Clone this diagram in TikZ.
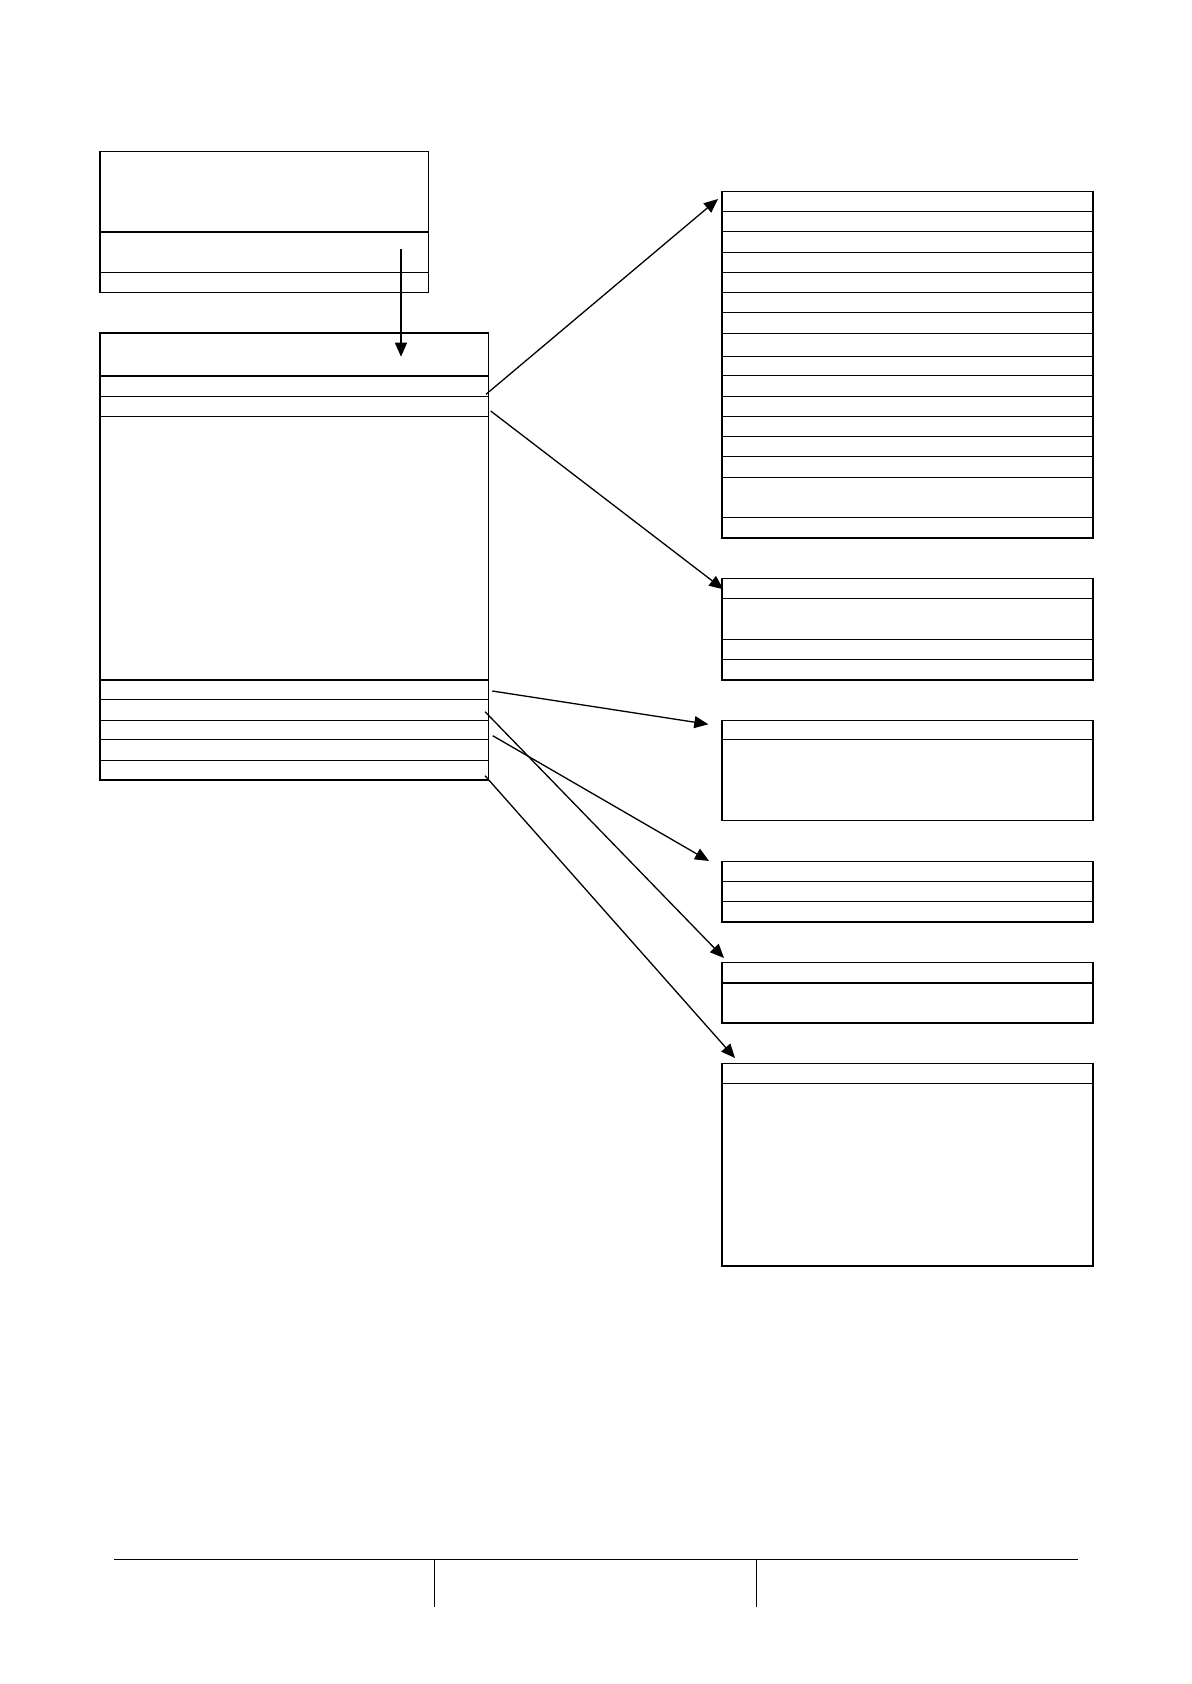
\documentclass[tikz,border=0pt]{standalone}
\usepackage{tikz}
\usetikzlibrary{arrows.meta, fit}
\tikzstyle{tbl} = [draw, line width=0.8pt, inner sep=0pt]
\tikzstyle{sep} = [line width=0.45pt]
\tikzstyle{hsep} = [line width=0.9pt]
\tikzstyle{arrow} = [line width=0.65pt, -{Triangle[length=7pt,width=6pt]}]

\begin{document}
\begin{tikzpicture}[x=0.5pt, y=-0.5pt]
\useasboundingbox (0,0) rectangle (1191,1684);
% boxes
\node[tbl, fit={(100,151.6) (428.3,292.7)}] (top) {};
\node[tbl, fit={(100,333.3) (488.3,780)}] (main) {};
\node[tbl, fit={(722,191.7) (1092.7,537.7)}] (tabA) {};
\node[tbl, fit={(722,578.3) (1092.7,679.7)}] (tabB) {};
\node[tbl, fit={(722,720.3) (1092.7,820.3)}] (tabC) {};
\node[tbl, fit={(722,861.3) (1092.7,921.7)}] (tabD) {};
\node[tbl, fit={(722,962.3) (1092.7,1023)}] (tabE) {};
\node[tbl, fit={(722,1063.3) (1092.7,1265.7)}] (tabF) {};
% rows
\draw[hsep] (100,231.7) -- (428.3,231.7);
\draw[sep] (100,272.3) -- (428.3,272.3);
\draw[hsep] (100,375.7) -- (488.3,375.7);
\draw[hsep] (100,680) -- (488.3,680);
\foreach \y in {396.3,416.3,699.3,720.3,739.3,760.3}
  \draw[sep] (100,\y) -- (488.3,\y);
\foreach \y in {211.3,231.7,252.3,272.3,292.7,312.7,333.3,356.3,375.3,396.3,416.3,436.3,456.3,477,517.3}
  \draw[sep] (722,\y) -- (1092.7,\y);
\foreach \y in {598.3,639.3,659.3,739.3,881.3,901.3,1083.3}
  \draw[sep] (722,\y) -- (1092.7,\y);
\draw[hsep] (722,983) -- (1092.7,983);
% arrow ends
\coordinate (d1) at (401,249);
\coordinate (d2) at (401,356.7);
\coordinate (s1) at (486,394.3);
\coordinate (s2) at (490.7,411);
\coordinate (s3) at (492.3,691);
\coordinate (s4) at (492.7,735.7);
\coordinate (s5) at (485,711.7);
\coordinate (s6) at (485,775.7);
\coordinate (e1) at (718,199);
\coordinate (e2) at (723.3,589.3);
\coordinate (e3) at (708.3,724.3);
\coordinate (e4) at (709,861);
\coordinate (e5) at (724,958);
\coordinate (e6) at (735,1058);
\draw[arrow] (d1) -- (d2);
\foreach \i in {1,...,6}
  \draw[arrow] (s\i) -- (e\i);
% footer
\coordinate (f1) at (114,1559.3);
\coordinate (f2) at (1077.7,1559.3);
\coordinate (g1) at (434.3,1559.3);
\coordinate (g2) at (434.3,1606.7);
\coordinate (h1) at (756.3,1559.3);
\coordinate (h2) at (756.3,1606.7);
\draw[line width=0.8pt] (f1) -- (f2);
\draw[sep] (g1) -- (g2);
\draw[sep] (h1) -- (h2);
\end{tikzpicture}
\end{document}
